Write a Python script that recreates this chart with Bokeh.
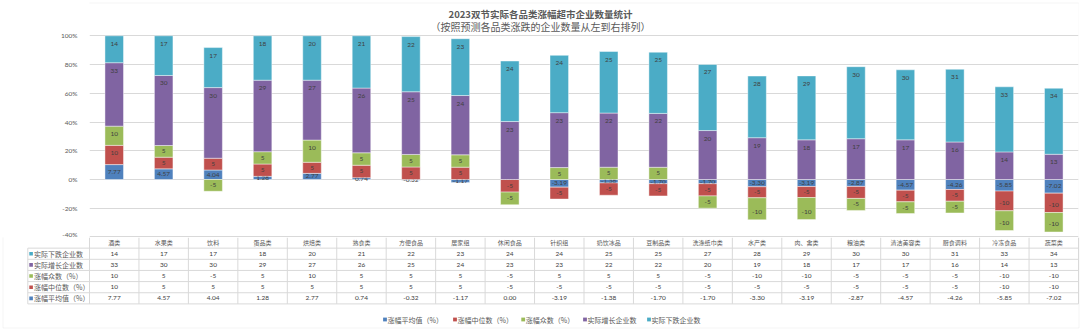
from bokeh.plotting import figure
from bokeh.models import (Range1d, FixedTicker, PrintfTickFormatter, ColumnDataSource,
                          BoxAnnotation)
from bokeh.layouts import column
from bokeh.core.properties import value
from bokeh.embed import file_html
from bokeh.resources import INLINE

# ---------------- data ----------------
categories = ["酒类", "水果类", "饮料", "蛋品类", "烘焙类", "熟食类", "方便食品", "居家组",
              "休闲食品", "针织组", "奶饮冰品", "豆制品类", "洗涤纸巾类", "水产类", "肉、禽类",
              "粮油类", "清洁美容类", "厨食调料", "冷冻食品", "蔬菜类"]
avg_rise = [7.77, 4.57, 4.04, 1.28, 2.77, 0.74, -0.32, -1.17, 0.00, -3.19,
            -1.38, -1.70, -1.70, -3.30, -3.19, -2.87, -4.57, -4.26, -5.85, -7.02]
median_rise = [10, 5, 5, 5, 5, 5, 5, 5, -5, -5, -5, -5, -5, -5, -5, -5, -5, -5, -10, -10]
mode_rise = [10, 5, -5, 5, 10, 5, 5, 5, -5, 5, 5, 5, -5, -10, -10, -5, -5, -5, -10, -10]
up_count = [33, 30, 30, 29, 27, 26, 25, 24, 23, 23, 22, 22, 20, 19, 18, 17, 17, 16, 14, 13]
down_count = [14, 17, 17, 18, 20, 21, 22, 23, 24, 24, 25, 25, 27, 28, 29, 30, 30, 31, 33, 34]
series_names = ["涨幅平均值（%）", "涨幅中位数（%）", "涨幅众数（%）", "实际增长企业数", "实际下跌企业数"]
y_ticks = [-40, -20, 0, 20, 40, 60, 80, 100]
title1 = "2023双节实际各品类涨幅超市企业数量统计"
title2 = "（按照预测各品类涨跌的企业数量从左到右排列）"

# ---------------- style / layout ----------------
colors = ["#4F81BD", "#C0504D", "#9BBB59", "#8064A2", "#4BACC6"]
fmts = ["{:.2f}", "{:.0f}", "{:.0f}", "{:.0f}", "{:.0f}"]
series_vals = [avg_rise, median_rise, mode_rise, up_count, down_count]
CJK = "Noto Sans CJK SC"
NUM = "Lato"
GRID = "#d9d9d9"
W = 1080
H1 = 237
H2 = 331 - H1
FRAME_L = 89
FRAME_R = 1078
n = len(categories)
COLW = (FRAME_R - FRAME_L) / n
PPU = 1.437                      # pixels per percent
Y_TOP = 100 + 35.3 / PPU
Y_BOT = -40 - 0.5 / PPU
LABEL_OFF = 8 / PPU              # "inside end" label offset


def px2x(px):
    return (px - FRAME_L) / COLW - 0.5


def py2y(py):
    return Y_TOP - py / PPU


xs = list(range(n))

# ---------------- top chart ----------------
p = figure(width=W, height=H1, x_range=Range1d(-0.5, n - 0.5), y_range=Range1d(Y_BOT, Y_TOP),
           x_axis_location=None, toolbar_location=None, output_backend="svg",
           min_border_left=FRAME_L, min_border_right=W - FRAME_R, min_border_top=0,
           min_border_bottom=0, outline_line_color=None, background_fill_color="white",
           border_fill_color="white", frame_align=False)
p.xgrid.visible = False
p.yaxis.ticker = FixedTicker(ticks=y_ticks)
p.yaxis.formatter = PrintfTickFormatter(format="%d%%")
p.yaxis.axis_line_color = None
p.yaxis.major_tick_line_color = None
p.yaxis.minor_tick_line_color = None
p.yaxis.major_label_text_font_size = "6.5px"
p.yaxis.major_label_text_color = "#595959"
p.yaxis.major_label_text_font = NUM
p.yaxis.major_label_standoff = 6
p.ygrid.grid_line_color = GRID
p.ygrid.grid_line_width = 1

abs_tot = [sum(abs(s[i]) for s in series_vals) for i in range(n)]
pos = [0.0] * n
neg = [0.0] * n
for vals, col, fmt in zip(series_vals, colors, fmts):
    bots, tops, labs, ly = [], [], [], []
    for i, v in enumerate(vals):
        pct = v / abs_tot[i] * 100
        if pct >= 0:
            b = pos[i]
            t = b + pct
            pos[i] = t
            ly.append(max(t - LABEL_OFF, (b + t) / 2))
        else:
            t = neg[i]
            b = t + pct
            neg[i] = b
            ly.append(min(b + LABEL_OFF, (b + t) / 2))
        bots.append(b)
        tops.append(t)
        labs.append(fmt.format(v))
    src = ColumnDataSource(dict(x=xs, bottom=bots, top=tops, y=ly, lab=labs))
    p.vbar(x="x", bottom="bottom", top="top", width=0.375, source=src, fill_color=col,
           line_color="white", line_alpha=0.55, line_width=0.8)
    p.text(x="x", y="y", text="lab", source=src, text_align="center", text_baseline="middle",
           text_font_size="6.5px", text_color="#404040", text_font=value(NUM))

p.text(x=[px2x(540)], y=[py2y(13.3)], text=[title1], text_align="center", text_baseline="middle",
       text_font_size="9.5px", text_font_style="bold", text_color="#595959", text_font=value(CJK))
p.text(x=[px2x(540)], y=[py2y(25.7)], text=[title2], text_align="center", text_baseline="middle",
       text_font_size="10px", text_color="#595959", text_font=value(CJK))

p.add_layout(BoxAnnotation(left=2.5, right=1078.5, top=2.5, bottom=H1 + 20,
                           left_units="canvas", right_units="canvas", top_units="canvas",
                           bottom_units="canvas", fill_alpha=0, line_color=GRID, line_width=1,
                           level="overlay"))

# ---------------- bottom data table + legend ----------------
p2 = figure(width=W, height=H2, x_range=Range1d(px2x(0), px2x(W)), y_range=Range1d(H2, 0),
            x_axis_location=None, y_axis_location=None, toolbar_location=None,
            output_backend="svg", min_border=0, outline_line_color=None,
            background_fill_color="white", border_fill_color="white", frame_align=False)
p2.grid.visible = False

ROW_H = 11.15
HEAD_TOP = -0.5
row_edges = [HEAD_TOP + ROW_H * k for k in range(7)]
tab_left = px2x(27.3)
tab_right = n - 0.5

# vertical lines
vx = [-0.5 + k for k in range(n + 1)]
p2.segment(x0=vx, x1=vx, y0=[0] * len(vx), y1=[row_edges[-1]] * len(vx), line_color=GRID,
           line_width=1)
p2.segment(x0=[tab_left], x1=[tab_left], y0=[row_edges[1]], y1=[row_edges[-1]],
           line_color=GRID, line_width=1)
# horizontal lines
hy = row_edges[1:]
p2.segment(x0=[tab_left] * len(hy), x1=[tab_right] * len(hy), y0=hy, y1=hy, line_color=GRID,
           line_width=1)

# header categories
p2.text(x=xs, y=[(row_edges[0] + row_edges[1]) / 2] * n, text=categories, text_align="center",
        text_baseline="middle", text_font_size="6px", text_color="#595959",
        text_font=value(CJK))

# rows (top to bottom: down, up, mode, median, avg)
order = [4, 3, 2, 1, 0]
for r, si in enumerate(order):
    yc = (row_edges[r + 1] + row_edges[r + 2]) / 2
    vals = series_vals[si]
    p2.text(x=xs, y=[yc] * n, text=[fmts[si].format(v) for v in vals], text_align="center",
            text_baseline="middle", text_font_size="6.5px", text_color="#404040",
            text_font=value(NUM))
    p2.scatter(x=[px2x(30.6)], y=[yc], marker="square", size=3.6, fill_color=colors[si],
               line_color=None)
    p2.text(x=[px2x(33.6)], y=[yc], text=[series_names[si]], text_align="left",
            text_baseline="middle", text_font_size="7px", text_color="#595959",
            text_font=value(CJK))

# bottom legend (series order), drawn as key squares + labels
leg_px = [384.5, 454.5, 522.7, 584.5, 648.5]
leg_y = 319 - H1
p2.scatter(x=[px2x(v) for v in leg_px], y=[leg_y] * 5, marker="square", size=3.8,
           fill_color=colors, line_color=None)
p2.text(x=[px2x(v + 2.5) for v in leg_px], y=[leg_y] * 5, text=series_names, text_align="left",
        text_baseline="middle", text_font_size="7px", text_color="#595959",
        text_font=value(CJK))

p2.add_layout(BoxAnnotation(left=2.5, right=1078.5, top=-20, bottom=H2 - 3.5,
                            left_units="canvas", right_units="canvas", top_units="canvas",
                            bottom_units="canvas", fill_alpha=0, line_color=GRID, line_width=1,
                            level="overlay"))

layout = column(p, p2, spacing=0)

open("out.html", "w").write(file_html(layout, INLINE))
